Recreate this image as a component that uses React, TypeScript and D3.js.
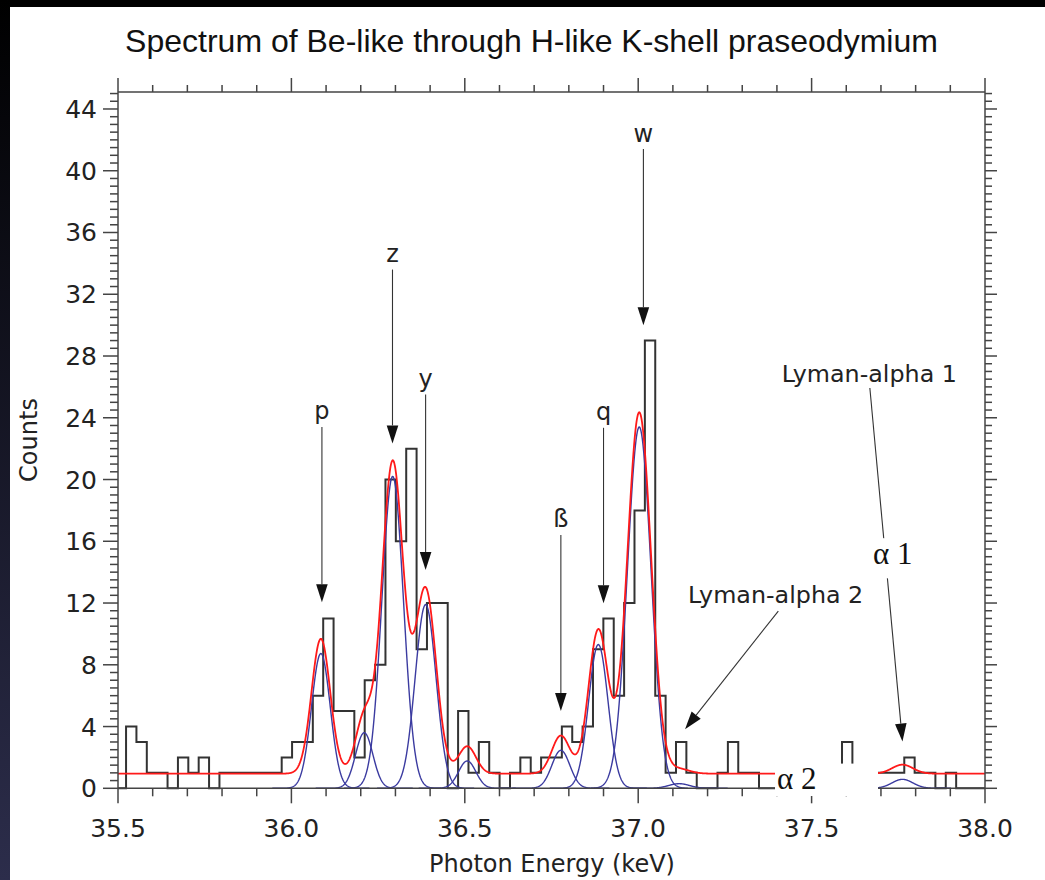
import React from 'react';
import * as d3 from 'd3';

// ---------- data ----------
const chartTitle = 'Spectrum of Be-like through H-like K-shell praseodymium';
const xAxisTitle = 'Photon Energy (keV)';
const yAxisTitle = 'Counts';

const energyDomain = [35.5, 38.0];
const countDomain = [0, 45.1];
const energyMajorTicks = [35.5, 36.0, 36.5, 37.0, 37.5, 38.0];
const countMajorTicks = [0, 4, 8, 12, 16, 20, 24, 28, 32, 36, 40, 44];

// histogram (bin edges start at binStart, constant width)
const binStart = 35.4933;
const binWidth = 0.02992;
const binCounts = [
  0, 4, 3, 1, 1, 0, 2, 1, 2, 0,
  1, 1, 1, 1, 1, 1, 2, 3, 3, 6,
  11, 5, 5, 2, 7, 8, 20, 16, 22, 9,
  12, 12, 0, 5, 1, 3, 1, 0, 1, 2,
  1, 2, 2, 4, 3, 4, 9, 11, 6, 12,
  18, 29, 6, 1, 3, 1, 0, 0, 1, 3,
  1, 1, 0, 0, 1, 0, 1, 1, 0, 1,
  3, 1, 1, 1, 1, 1, 2, 1, 1, 0,
  1, 0, 0, 0,
];

// fitted lines
const fitBackground = 0.95;
const lineCenters = [36.085, 36.21, 36.292, 36.387, 36.507, 36.777, 36.885, 37.003, 37.118, 37.762];
const lineAmplitudes = [8.73, 3.6, 20.2, 11.9, 1.77, 2.46, 9.31, 23.4, 0.3, 0.58];
const lineSigmas = [0.027, 0.025, 0.031, 0.03, 0.025, 0.026, 0.028, 0.034, 0.03, 0.03];
const componentHalfRange = 0.14;

// arrow annotations (energy, counts)
const arrowLabels = ['p', 'z', 'y', 'ß', 'q', 'w'];
const arrowEnergies = [36.088, 36.2915, 36.387, 36.777, 36.9, 37.015];
const arrowLabelCounts = [23.9, 34.1, 26.0, 16.9, 23.85, 41.86];
const arrowStartCounts = [23.4, 33.6, 25.5, 16.4, 23.35, 41.4];
const arrowTipCounts = [12.05, 22.34, 14.14, 5.01, 11.98, 30.0];

const lymanLabels = ['Lyman-alpha 1', 'Lyman-alpha 2'];
const lymanLabelPos = [[37.4138, 26.33], [37.1436, 11.98]];
const lymanLineStart = [[37.668, 25.93], [37.404, 11.48]];
const lymanLineTip = [[37.762, 3.03], [37.135, 3.82]];

const greekLabels = ['α 1', 'α 2'];
const greekPos = [[37.677, 14.51], [37.4, -0.05]];
const greekBoxes = [
  [37.672, 37.8, 13.6, 16.2],
  [37.3945, 37.6915, -0.5, 1.6],
];

// ---------- layout ----------
const W = 1045;
const H = 880;
const left = 118;
const right = 985;
const top = 92;
const bottom = 788.3;

const x = d3.scaleLinear().domain(energyDomain).range([left, right]);
const y = d3.scaleLinear().domain(countDomain).range([bottom, top]);

const gauss = (e: number, i: number) =>
  lineAmplitudes[i] * Math.exp(-0.5 * ((e - lineCenters[i]) / lineSigmas[i]) ** 2);

function histPath() {
  let p = `M${x(binStart)},${y(0)}`;
  binCounts.forEach((c, i) => {
    const e0 = binStart + i * binWidth;
    const e1 = e0 + binWidth;
    p += `V${y(c)}H${x(e1)}`;
  });
  p += `V${y(0)}`;
  return p;
}

const line = d3
  .line<[number, number]>()
  .x((d) => x(d[0]))
  .y((d) => y(d[1]));

function componentPath(i: number) {
  const pts: [number, number][] = [];
  const a = lineCenters[i] - componentHalfRange;
  const b = lineCenters[i] + componentHalfRange;
  for (let e = a; e <= b + 1e-9; e += 0.001) pts.push([e, gauss(e, i)]);
  return line(pts) || '';
}

function totalPath() {
  const pts: [number, number][] = [];
  for (let e = energyDomain[0]; e <= energyDomain[1] + 1e-9; e += 0.001) {
    let v = fitBackground;
    lineCenters.forEach((_, i) => (v += gauss(e, i)));
    pts.push([e, v]);
  }
  return line(pts) || '';
}

function Arrow({ x0, y0, x1, y1 }: { x0: number; y0: number; x1: number; y1: number }) {
  const dx = x1 - x0;
  const dy = y1 - y0;
  const len = Math.hypot(dx, dy);
  const ux = dx / len;
  const uy = dy / len;
  const hl = 18;
  const hw = 5.8;
  const bx = x1 - ux * hl;
  const by = y1 - uy * hl;
  const pts = `${x1},${y1} ${bx - uy * hw},${by + ux * hw} ${bx + uy * hw},${by - ux * hw}`;
  return (
    <g>
      <line x1={x0} y1={y0} x2={bx} y2={by} stroke="#333" strokeWidth={1.1} />
      <polygon points={pts} fill="#111" />
    </g>
  );
}

export default function App() {
  const minorX = d3.range(35.5, 38.0001, 0.1);
  const minorY = d3.range(0, 45.001, 0.5);
  const tickFont = 'DejaVu Sans, Verdana, sans-serif';
  return (
    <svg
      width={W}
      height={H}
      viewBox={`0 0 ${W} ${H}`}
      style={{ position: 'absolute', left: 0, top: 0, display: 'block' }}
    >
      <defs>
        <linearGradient id="edge" x1="0" y1="0" x2="0" y2="1">
          <stop offset="0" stopColor="#000000" />
          <stop offset="1" stopColor="#2c2d4b" />
        </linearGradient>
        <clipPath id="plot">
          <rect x={left} y={top - 10} width={right - left} height={bottom - top + 12} />
        </clipPath>
      </defs>
      <rect x={0} y={0} width={W} height={H} fill="#ffffff" />
      <rect x={0} y={0} width={W} height={7} fill="#000" />
      <rect x={0} y={0} width={10} height={H} fill="url(#edge)" />

      <text
        x={531.5}
        y={52}
        textAnchor="middle"
        fontFamily="Liberation Sans, Arial, Helvetica, sans-serif"
        fontSize={32}
        fill="#111"
      >
        {chartTitle}
      </text>

      <g clipPath="url(#plot)">
        <path d={histPath()} fill="none" stroke="#333" strokeWidth={2} />
        {lineCenters.map((_, i) => (
          <path key={i} d={componentPath(i)} fill="none" stroke="#3b3ba0" strokeWidth={1.4} />
        ))}
        <path d={totalPath()} fill="none" stroke="#ff1a1a" strokeWidth={1.8} />
      </g>

      {/* axes frame */}
      <g stroke="#444" strokeWidth={1.5} fill="none">
        <line x1={left} y1={top} x2={right} y2={top} />
        <line x1={left} y1={bottom} x2={right} y2={bottom} />
        <line x1={left} y1={top} x2={left} y2={bottom} />
        <line x1={right} y1={top} x2={right} y2={bottom} />
        {minorX.map((e, i) => {
          const major = energyMajorTicks.some((m) => Math.abs(m - e) < 1e-6);
          return (
            <g key={'x' + i}>
              <line x1={x(e)} x2={x(e)} y1={bottom} y2={bottom + (major ? 15 : 8)} />
              <line x1={x(e)} x2={x(e)} y1={top} y2={top - (major ? 14 : 7)} />
            </g>
          );
        })}
        {minorY.map((c, i) => {
          const major = countMajorTicks.some((m) => Math.abs(m - c) < 1e-6);
          return (
            <g key={'y' + i}>
              <line x1={left} x2={left - (major ? 15 : 8)} y1={y(c)} y2={y(c)} />
              <line x1={right} x2={right + (major ? 12 : 7)} y1={y(c)} y2={y(c)} />
            </g>
          );
        })}
      </g>

      <g fontFamily={tickFont} fontSize={25} fill="#222">
        {energyMajorTicks.map((e) => (
          <text key={e} x={x(e)} y={837} textAnchor="middle">
            {d3.format('.1f')(e)}
          </text>
        ))}
        {countMajorTicks.map((c) => (
          <text key={c} x={97} y={y(c) + 9} textAnchor="end">
            {c}
          </text>
        ))}
        <text x={552} y={872} textAnchor="middle" fontSize={24}>
          {xAxisTitle}
        </text>
        <text transform={`translate(37,${440}) rotate(-90)`} textAnchor="middle" fontSize={24}>
          {yAxisTitle}
        </text>
      </g>

      {/* arrows */}
      <g fontFamily={tickFont} fontSize={24} fill="#222">
        {arrowLabels.map((t, i) => (
          <g key={t}>
            <text x={x(arrowEnergies[i])} y={y(arrowLabelCounts[i])} textAnchor="middle">
              {t}
            </text>
            <Arrow
              x0={x(arrowEnergies[i])}
              y0={y(arrowStartCounts[i])}
              x1={x(arrowEnergies[i])}
              y1={y(arrowTipCounts[i])}
            />
          </g>
        ))}
        {lymanLabels.map((t, i) => (
          <g key={t}>
            <Arrow
              x0={x(lymanLineStart[i][0])}
              y0={y(lymanLineStart[i][1])}
              x1={x(lymanLineTip[i][0])}
              y1={y(lymanLineTip[i][1])}
            />
            <text x={x(lymanLabelPos[i][0])} y={y(lymanLabelPos[i][1])} fontSize={23.8}>
              {t}
            </text>
          </g>
        ))}
      </g>

      {greekLabels.map((t, i) => (
        <g key={t}>
          <rect
            x={x(greekBoxes[i][0])}
            y={y(greekBoxes[i][3])}
            width={x(greekBoxes[i][1]) - x(greekBoxes[i][0])}
            height={y(greekBoxes[i][2]) - y(greekBoxes[i][3])}
            fill="#ffffff"
          />
          <text
            x={x(greekPos[i][0])}
            y={y(greekPos[i][1])}
            fontFamily="Liberation Serif, Times New Roman, serif"
            fontSize={31}
            fill="#111"
          >
            {t}
          </text>
        </g>
      ))}
    </svg>
  );
}
